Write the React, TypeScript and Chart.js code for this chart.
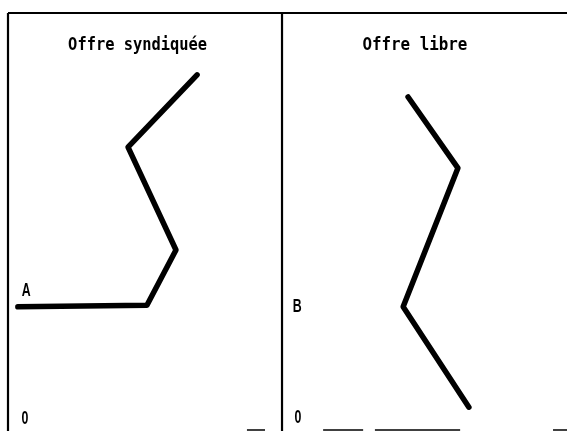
import React, { useEffect, useRef } from "react";
import { Chart, registerables } from "chart.js";

Chart.register(...registerables);

// Curve data (x: horizontal units, left panel 0..100, right panel 100..204; y: quantity units 0..100)
const syndiqueeX = [3.6, 50.7, 61.3, 43.8, 69.0];
const syndiqueeY = [29.7, 30.1, 43.3, 67.9, 85.2];
const libreX = [146.0, 164.2, 144.2, 168.2];
const libreY = [79.9, 62.9, 29.7, 5.7];

// Panel titles and axis labels
const panelTitles = ["Offre syndiquée", "Offre libre"];
const panelTitleX = [47.3, 148.5];
const panelTitleWidth = [139, 105];
const axisLabels = ["A", "0", "B", "0"];
const axisLabelX = [6.6, 6.2, 105.5, 105.8];
const axisLabelY = [33.5, 2.9, 29.7, 3.1];

// Frame segments
const frameTop = 100;
const panelEdges = [0, 100];
const bottomSegStart = [87.2, 115.0, 133.9, 198.9];
const bottomSegEnd = [93.8, 129.6, 165.0, 204.5];

const toPts = (xs: number[], ys: number[]) => xs.map((x, i) => ({ x, y: ys[i] }));

export default function App() {
  const ref = useRef<HTMLCanvasElement | null>(null);

  useEffect(() => {
    if (!ref.current) return;
    const frameStyle = {
      borderColor: "#000",
      borderWidth: 2.2,
      pointRadius: 0,
      showLine: true,
      fill: false,
    };
    const curveStyle = {
      borderColor: "#000",
      borderWidth: 5.5,
      pointRadius: 0,
      showLine: true,
      fill: false,
      tension: 0,
      borderJoinStyle: "round" as const,
      borderCapStyle: "round" as const,
    };
    const datasets: any[] = [
      { ...curveStyle, data: toPts(syndiqueeX, syndiqueeY) },
      { ...curveStyle, data: toPts(libreX, libreY) },
      { ...frameStyle, data: [{ x: panelEdges[0], y: frameTop }, { x: 204.5, y: frameTop }] },
      ...panelEdges.map((e) => ({ ...frameStyle, data: [{ x: e, y: -1 }, { x: e, y: frameTop }] })),
      ...bottomSegStart.map((s, i) => ({
        ...frameStyle,
        borderWidth: 1.5,
        data: [{ x: s, y: 0.24 }, { x: bottomSegEnd[i], y: 0.24 }],
      })),
    ];

    const textPlugin = {
      id: "texts",
      afterDatasetsDraw(chart: any) {
        const { ctx, scales } = chart;
        const xs = scales.x;
        const ys = scales.y;
        ctx.save();
        ctx.fillStyle = "#000";
        ctx.textAlign = "center";
        ctx.textBaseline = "middle";
        ctx.font = 'bold 17px "DejaVu Sans Mono"';
        panelTitles.forEach((t, i) => {
          const px = xs.getPixelForValue(panelTitleX[i]);
          const py = ys.getPixelForValue(92.1);
          const w = ctx.measureText(t).width;
          ctx.save();
          ctx.translate(px, py);
          ctx.scale(panelTitleWidth[i] / w, 1);
          ctx.fillText(t, 0, 0);
          ctx.restore();
        });
        ctx.font = 'bold 19px "Liberation Sans"';
        axisLabels.forEach((t, i) => {
          const px = xs.getPixelForValue(axisLabelX[i]);
          const py = ys.getPixelForValue(axisLabelY[i]);
          ctx.save();
          ctx.translate(px, py);
          ctx.scale(0.65, 1);
          ctx.fillText(t, 0, 0);
          ctx.restore();
        });
        ctx.restore();
      },
    };

    const chart = new Chart(ref.current, {
      type: "scatter",
      data: { datasets },
      options: {
        animation: false,
        responsive: false,
        maintainAspectRatio: false,
        layout: { padding: 0 },
        clip: false as any,
        plugins: { legend: { display: false }, tooltip: { enabled: false }, title: { display: false } },
        scales: {
          x: { type: "linear", display: false, min: -2.92, max: 204.0 },
          y: { type: "linear", display: false, min: 0, max: 103.11 },
        },
      },
      plugins: [textPlugin],
    });
    return () => chart.destroy();
  }, []);

  return (
    <div style={{ position: "absolute", left: 0, top: 0, width: 567, height: 431, background: "#fff" }}>
      <canvas ref={ref} width={567} height={431} style={{ display: "block" }} />
    </div>
  );
}
